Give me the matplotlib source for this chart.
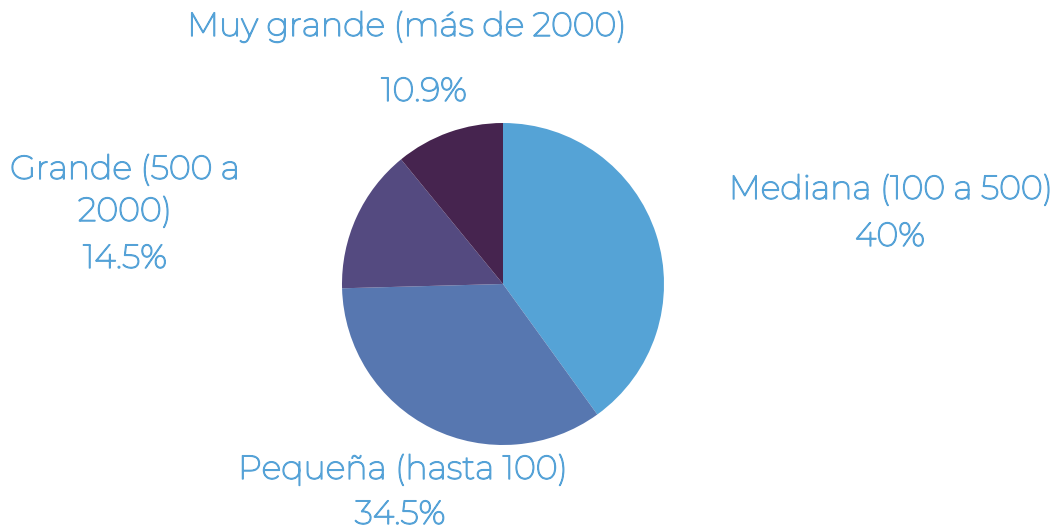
import matplotlib
matplotlib.use("Agg")
import matplotlib.pyplot as plt
import matplotlib.patheffects as pe

# DATA
labels = ["Mediana (100 a 500)", "Pequeña (hasta 100)", "Grande (500 a\n2000)", "Muy grande (más de 2000)"]
values = [40, 34.5, 14.5, 10.9]
colors = ["#55A3D6", "#5777B0", "#544A80", "#46244F"]

text_color = "#55A2D7"
plt.rcParams['font.family'] = ['Montserrat', 'Open Sans', 'DejaVu Sans']

W, H = 1061, 530
fig = plt.figure(figsize=(W / 100, H / 100), dpi=100)

# pie centre (503, 284) px, radius 161 px
cx, cy, r = 503, 284, 161
ax = fig.add_axes([(cx - r) / W, (H - cy - r) / H, 2 * r / W, 2 * r / H])
ax.pie(values, colors=colors, startangle=90, counterclock=False, radius=1,
       wedgeprops=dict(linewidth=0))
ax.set_xlim(-1, 1)
ax.set_ylim(-1, 1)
ax.set_aspect('equal')
ax.axis('off')

# label placement in pixels (name centre, pct centre)
label_pos = [
    ((891, 190), (890, 237)),
    ((403, 470), (400, 515)),
    ((125, 191), (125, 259)),
    ((407, 27), (424, 92)),
]

# installed Montserrat is thin, thicken strokes a bit
bold = [pe.withStroke(linewidth=1.0, foreground=text_color)]
for lab, val, (p_name, p_pct) in zip(labels, values, label_pos):
    fig.text(p_name[0] / W, 1 - p_name[1] / H, lab, ha='center', va='center',
             fontsize=24, color=text_color, linespacing=1.5, path_effects=bold)
    fig.text(p_pct[0] / W, 1 - p_pct[1] / H, f"{val:g}%", ha='center', va='center',
             fontsize=24, color=text_color, path_effects=bold)

plt.savefig("out.png", dpi=100)
